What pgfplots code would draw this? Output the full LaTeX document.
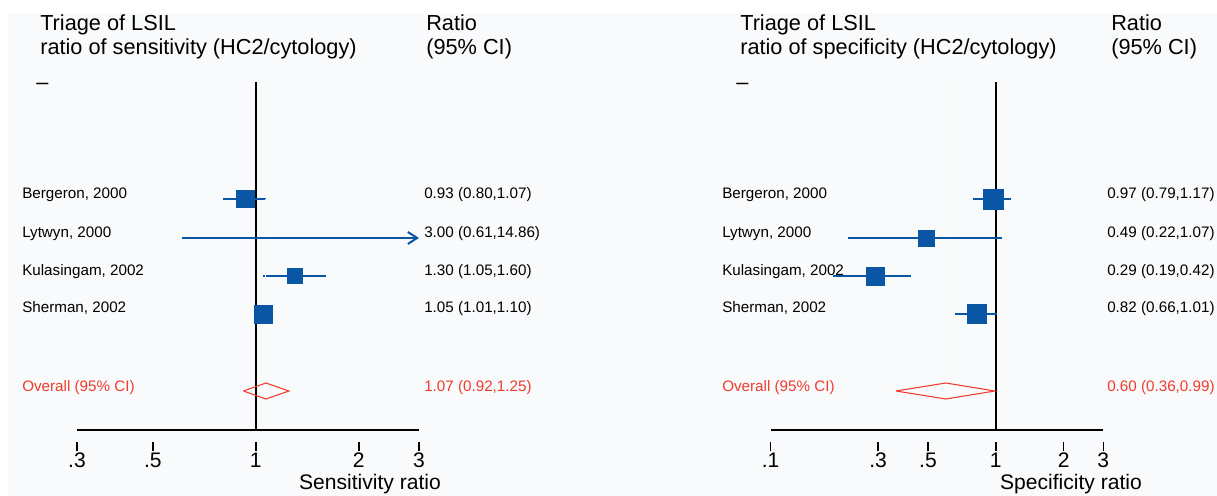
\documentclass[border=0pt]{standalone}
\usepackage{pgfplots}
\pgfplotsset{compat=1.18}
\usepackage{fontspec}
\setmainfont{Liberation Sans}
\usetikzlibrary{arrows.meta}
\definecolor{bg}{RGB}{248,250,251}
\definecolor{sblue}{RGB}{11,85,165}
\definecolor{sred}{RGB}{240,60,44}
\newcommand{\bigf}{\fontsize{16.3}{19}\selectfont}
\newcommand{\axf}{\fontsize{15.8}{19}\selectfont}
\newcommand{\smf}{\fontsize{11.4}{13.5}\selectfont}
\tikzset{
  myci/.style={sblue, line width=1.5pt},
  myovl/.style={white, line width=0.6pt, dash pattern=on 3pt off 2pt},
  mydia/.style={sred, line width=0.8pt},
  mybox/.style={sblue, only marks, mark=square*, mark options={solid, draw=sblue, fill=sblue, line width=0.1pt}},
}
\begin{document}
\begin{tikzpicture}[x=0.75pt,y=0.75pt]
\fill[white] (0,0) rectangle (1217,496);
\fill[bg] (8,0) rectangle (1217,483);

% ---------------- left panel: sensitivity ----------------
\begin{axis}[
    scale only axis, xmode=log, ymin=0, ymax=420, height=315pt,
    axis x line=bottom, axis y line=none, ytick=\empty,
    axis line style={-, line width=1.5pt, black},
    clip=false,
    tick align=outside, major tick length=6.75pt,
    xtick style={black, line width=1.1pt, yshift=-9pt},
    minor xtick={},
    xticklabel style={font=\axf, yshift=-7pt},
    anchor=south west,
    at={(57.75pt,49.5pt)}, width=256.5pt,
    xmin=0.3, xmax=3, xtick={0.3,0.5,1,2,3}, xticklabels={.3,.5,1,2,3}]
  \addplot[black, line width=1.5pt] coordinates {(1,0) (1,348)};
  \addplot[myci] coordinates {(0.80,231) (1.07,231)};
  \addplot[myci, -{Straight Barb[length=7pt,width=9pt,line width=1.5pt]}] coordinates {(0.61,192) (3,192)};
  \addplot[myci] coordinates {(1.05,154) (1.60,154)};
  \addplot[myci] coordinates {(1.01,116) (1.10,116)};
  \addplot[mybox, mark size=6.4pt] coordinates {(0.93,231)};
  \addplot[mybox, mark size=5.6pt] coordinates {(1.30,154)};
  \addplot[mybox, mark size=7.0pt] coordinates {(1.05,116)};
  \addplot[myovl] coordinates {(1.07,60) (1.07,348)};
  \addplot[mydia] coordinates {(0.92,39) (1.07,47) (1.25,39) (1.07,31) (0.92,39)};
\end{axis}

% ---------------- right panel: specificity ----------------
\begin{axis}[
    scale only axis, xmode=log, ymin=0, ymax=420, height=315pt,
    axis x line=bottom, axis y line=none, ytick=\empty,
    axis line style={-, line width=1.5pt, black},
    clip=false,
    tick align=outside, major tick length=6.75pt,
    xtick style={black, line width=1.1pt, yshift=-9pt},
    minor xtick={},
    xticklabel style={font=\axf, yshift=-7pt},
    anchor=south west,
    at={(577.9pt,49.5pt)}, width=249.6pt,
    xmin=0.1, xmax=3, xtick={0.1,0.3,0.5,1,2,3}, xticklabels={.1,.3,.5,1,2,3}]
  \addplot[black, line width=1.5pt] coordinates {(1,0) (1,348)};
  \addplot[myci] coordinates {(0.79,231) (1.17,231)};
  \addplot[myci] coordinates {(0.22,192) (1.07,192)};
  \addplot[myci] coordinates {(0.19,154) (0.42,154)};
  \addplot[myci] coordinates {(0.66,116) (1.01,116)};
  \addplot[mybox, mark size=7.5pt] coordinates {(0.97,231)};
  \addplot[mybox, mark size=6.0pt] coordinates {(0.49,192)};
  \addplot[mybox, mark size=6.75pt] coordinates {(0.29,154)};
  \addplot[mybox, mark size=7.1pt] coordinates {(0.82,116)};
  \addplot[myovl] coordinates {(0.60,60) (0.60,348)};
  \addplot[mydia] coordinates {(0.36,39) (0.60,47) (0.99,39) (0.60,31) (0.36,39)};
\end{axis}

% ---------------- texts ----------------
\begin{scope}[every node/.style={inner sep=0pt}]
% left
\node[anchor=base west, font=\bigf] at (40,465) {Triage of LSIL};
\node[anchor=base west, font=\bigf] at (40,441) {ratio of sensitivity (HC2/cytology)};
\node[anchor=base west, font=\bigf] at (426,465) {Ratio};
\node[anchor=base west, font=\bigf] at (426,441) {(95\% CI)};
\node[anchor=base west, font=\bigf] at (36,406) {--};
\node[anchor=base west, font=\smf] at (22,297) {Bergeron, 2000};
\node[anchor=base west, font=\smf] at (22,258) {Lytwyn, 2000};
\node[anchor=base west, font=\smf] at (22,220) {Kulasingam, 2002};
\node[anchor=base west, font=\smf] at (22,183) {Sherman, 2002};
\node[anchor=base west, font=\smf, text=sred] at (22,104) {Overall (95\% CI)};
\node[anchor=base west, font=\smf] at (424,297) {0.93 (0.80,1.07)};
\node[anchor=base west, font=\smf] at (424,258) {3.00 (0.61,14.86)};
\node[anchor=base west, font=\smf] at (424,220) {1.30 (1.05,1.60)};
\node[anchor=base west, font=\smf] at (424,183) {1.05 (1.01,1.10)};
\node[anchor=base west, font=\smf, text=sred] at (424,104) {1.07 (0.92,1.25)};
\node[anchor=base, font=\axf] at (370,6) {Sensitivity ratio};
% right
\node[anchor=base west, font=\bigf] at (740,465) {Triage of LSIL};
\node[anchor=base west, font=\bigf] at (740,441) {ratio of specificity (HC2/cytology)};
\node[anchor=base west, font=\bigf] at (1111,465) {Ratio};
\node[anchor=base west, font=\bigf] at (1111,441) {(95\% CI)};
\node[anchor=base west, font=\bigf] at (736,406) {--};
\node[anchor=base west, font=\smf] at (722,297) {Bergeron, 2000};
\node[anchor=base west, font=\smf] at (722,258) {Lytwyn, 2000};
\node[anchor=base west, font=\smf] at (722,220) {Kulasingam, 2002};
\node[anchor=base west, font=\smf] at (722,183) {Sherman, 2002};
\node[anchor=base west, font=\smf, text=sred] at (722,104) {Overall (95\% CI)};
\node[anchor=base west, font=\smf] at (1107,297) {0.97 (0.79,1.17)};
\node[anchor=base west, font=\smf] at (1107,258) {0.49 (0.22,1.07)};
\node[anchor=base west, font=\smf] at (1107,220) {0.29 (0.19,0.42)};
\node[anchor=base west, font=\smf] at (1107,183) {0.82 (0.66,1.01)};
\node[anchor=base west, font=\smf, text=sred] at (1107,104) {0.60 (0.36,0.99)};
\node[anchor=base, font=\axf] at (1071,6) {Specificity ratio};
\end{scope}
\end{tikzpicture}
\end{document}
